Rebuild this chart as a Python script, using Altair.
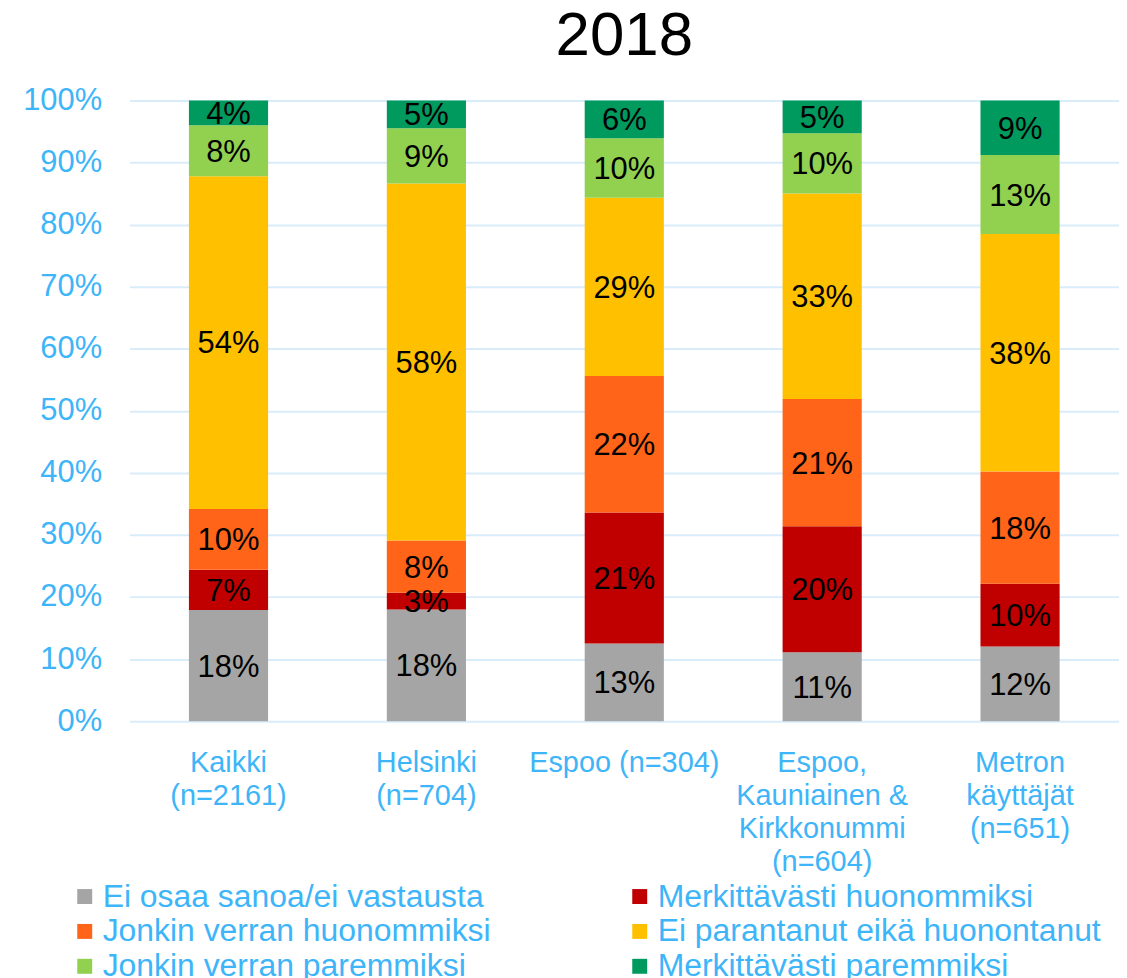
import altair as alt
import pandas as pd

# ---- data ----
categories = [
    "Kaikki|(n=2161)",
    "Helsinki|(n=704)",
    "Espoo (n=304)",
    "Espoo,|Kauniainen &|Kirkkonummi|(n=604)",
    "Metron|käyttäjät|(n=651)",
]
series = [
    "Ei osaa sanoa/ei vastausta",
    "Merkittävästi huonommiksi",
    "Jonkin verran huonommiksi",
    "Ei parantanut eikä huonontanut",
    "Jonkin verran paremmiksi",
    "Merkittävästi paremmiksi",
]
colors = ["#A5A5A5", "#C00000", "#FF6418", "#FFC000", "#92D050", "#00995E"]
# legend is filled column by column: left column first, then right column
legend_order = [series[0], series[2], series[4], series[1], series[3], series[5]]

ei_osaa = [17.9, 18.0, 12.5, 11.1, 12.0]
merk_huonommiksi = [6.5, 2.7, 21.1, 20.3, 10.1]
jonkin_huonommiksi = [9.8, 8.4, 22.0, 20.5, 18.1]
ei_parantanut = [53.6, 57.5, 28.7, 33.1, 38.2]
jonkin_paremmiksi = [8.2, 8.9, 9.6, 9.7, 12.7]
merk_paremmiksi = [4.0, 4.5, 6.1, 5.3, 8.8]

ei_osaa_lbl = ["18%", "18%", "13%", "11%", "12%"]
merk_huonommiksi_lbl = ["7%", "3%", "21%", "20%", "10%"]
jonkin_huonommiksi_lbl = ["10%", "8%", "22%", "21%", "18%"]
ei_parantanut_lbl = ["54%", "58%", "29%", "33%", "38%"]
jonkin_paremmiksi_lbl = ["8%", "9%", "10%", "10%", "13%"]
merk_paremmiksi_lbl = ["4%", "5%", "6%", "5%", "9%"]

values = [ei_osaa, merk_huonommiksi, jonkin_huonommiksi, ei_parantanut,
          jonkin_paremmiksi, merk_paremmiksi]
labels = [ei_osaa_lbl, merk_huonommiksi_lbl, jonkin_huonommiksi_lbl,
          ei_parantanut_lbl, jonkin_paremmiksi_lbl, merk_paremmiksi_lbl]

rows = []
for si, (s, vals, lbls) in enumerate(zip(series, values, labels)):
    for c, v, l in zip(categories, vals, lbls):
        rows.append({"category": c, "series": s, "order": si, "value": v, "label": l})
df = pd.DataFrame(rows)

FONT = "Liberation Sans"
BLUE = "#3DB5F8"
GRID = "#D9ECFA"

base = (
    alt.Chart(df)
    .transform_joinaggregate(total="sum(value)", groupby=["category"])
    .transform_calculate(pct="datum.value / datum.total")
    .transform_stack(
        stack="pct",
        as_=["y0", "y1"],
        groupby=["category"],
        sort=[alt.SortField("order", order="ascending")],
    )
    .transform_calculate(ymid="(datum.y0 + datum.y1) / 2")
)

x_enc = alt.X(
    "category:N",
    sort=categories,
    scale=alt.Scale(paddingInner=0.6, paddingOuter=0.3),
    axis=alt.Axis(
        title=None,
        labelExpr="split(datum.label, '|')",
        labelAngle=0,
        labelFontSize=29,
        labelLineHeight=33,
        labelColor=BLUE,
        labelFont=FONT,
        labelPadding=28,
        ticks=False,
        domain=False,
        grid=False,
        labelLimit=400,
    ),
)

y_scale = alt.Scale(domain=[0, 1], nice=False, zero=True)

bars = base.mark_bar().encode(
    x=x_enc,
    y=alt.Y(
        "y0:Q",
        scale=y_scale,
        axis=alt.Axis(
            title=None,
            format=".0%",
            values=[0, 0.1, 0.2, 0.3, 0.4, 0.5, 0.6, 0.7, 0.8, 0.9, 1.0],
            labelFontSize=31,
            labelColor=BLUE,
            labelFont=FONT,
            labelPadding=28,
            ticks=False,
            domain=False,
            grid=True,
            gridColor=GRID,
            gridWidth=2,
        ),
    ),
    y2="y1:Q",
    color=alt.Color(
        "series:N",
        scale=alt.Scale(domain=series, range=colors),
        legend=alt.Legend(
            title=None,
            values=legend_order,
            orient="none",
            legendX=-61,
            legendY=783,
            columns=2,
            columnPadding=133,
            rowPadding=3,
            padding=0,
            symbolType="square",
            symbolSize=225,
            symbolStrokeWidth=0,
            labelFontSize=32,
            labelFont=FONT,
            labelColor=BLUE,
            labelLimit=700,
            labelOffset=2,
        ),
    ),
)

texts = base.mark_text(fontSize=31, font=FONT, color="black", dy=2).encode(
    x=alt.X("category:N", sort=categories),
    y=alt.Y("ymid:Q", scale=y_scale),
    text="label:N",
)

chart = (
    alt.layer(bars, texts)
    .properties(
        width=993,
        height=623,
        title=alt.TitleParams(
            "2018", fontSize=62, font=FONT, fontWeight="normal", color="black",
            anchor="middle", offset=17,
        ),
        autosize=alt.AutoSizeParams(type="none"),
        padding={"left": 122, "top": 91, "right": 0, "bottom": 256},
    )
    .configure_view(stroke=None)
)

chart.save("out.html", embed_options={"renderer": "svg", "actions": False})
